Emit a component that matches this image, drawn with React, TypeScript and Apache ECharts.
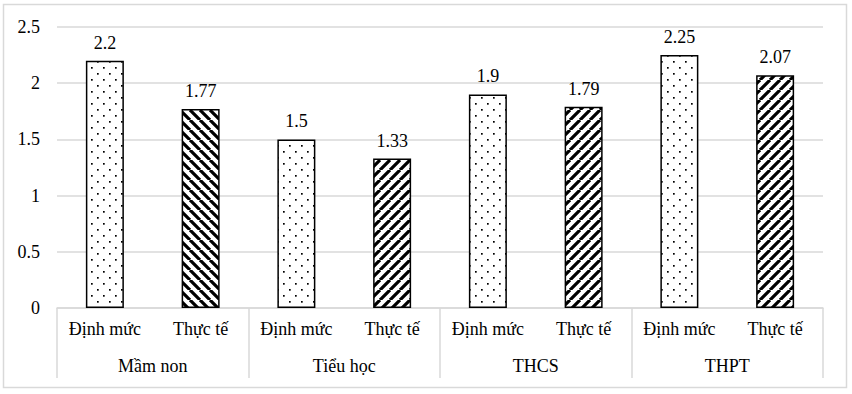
import React, { useEffect, useRef } from "react";
import * as echarts from "echarts";

const innerLabels = ["Định mức", "Thực tế", "Định mức", "Thực tế", "Định mức", "Thực tế", "Định mức", "Thực tế"];
const groupLabels = ["Mầm non", "Tiểu học", "THCS", "THPT"];
const values = [2.2, 1.77, 1.5, 1.33, 1.9, 1.79, 2.25, 2.07];
// pattern kind per bar: dots, backslash hatch, slash hatch
const patternKinds = ["dots", "back", "dots", "slash", "dots", "slash", "dots", "slash"];
const yTicks = { min: 0, max: 2.5, interval: 0.5 };

const FONT = "'Liberation Serif', 'Times New Roman', serif";

function makeDots(): HTMLCanvasElement {
  const c = document.createElement("canvas");
  c.width = 12;
  c.height = 12;
  const ctx = c.getContext("2d")!;
  ctx.fillStyle = "#fff";
  ctx.fillRect(0, 0, 12, 12);
  ctx.fillStyle = "#000";
  ctx.fillRect(1, 1, 1.7, 1.7);
  ctx.fillRect(7, 7, 1.7, 1.7);
  return c;
}

function makeHatch(forward: boolean): HTMLCanvasElement {
  const s = 10;
  const c = document.createElement("canvas");
  c.width = s;
  c.height = s;
  const ctx = c.getContext("2d")!;
  ctx.fillStyle = "#fff";
  ctx.fillRect(0, 0, s, s);
  ctx.strokeStyle = "#000";
  ctx.lineWidth = 3.2;
  ctx.beginPath();
  for (const o of [-s, 0, s]) {
    if (forward) {
      ctx.moveTo(o, s);
      ctx.lineTo(o + s, 0);
    } else {
      ctx.moveTo(o, 0);
      ctx.lineTo(o + s, s);
    }
  }
  ctx.stroke();
  return c;
}

export default function App() {
  const ref = useRef<HTMLDivElement>(null);
  useEffect(() => {
    if (!ref.current) return;
    const chart = echarts.init(ref.current, null, { renderer: "svg" });
    const pats: Record<string, HTMLCanvasElement> = {
      dots: makeDots(),
      back: makeHatch(false),
      slash: makeHatch(true),
    };
    const data = values.map((v, i) => ({
      value: v,
      itemStyle: {
        color: { image: pats[patternKinds[i]], repeat: "repeat" } as any,
      },
    }));
    chart.setOption({
      animation: false,
      backgroundColor: "#fff",
      textStyle: { fontFamily: FONT },
      graphic: [
        {
          type: "rect",
          shape: { x: 3.5, y: 4.5, width: 843, height: 383 },
          style: { fill: "none", stroke: "#d9d9d9", lineWidth: 1.5 },
          silent: true,
        },
      ],
      grid: { left: 57, right: 29, top: 27, bottom: 86, containLabel: false },
      xAxis: [
        {
          type: "category",
          data: innerLabels,
          position: "bottom",
          axisLine: { show: false },
          axisTick: { show: false },
          axisLabel: { margin: 12, fontFamily: FONT, fontSize: 18, color: "#000" },
        },
        {
          type: "category",
          data: groupLabels,
          position: "bottom",
          axisLine: { show: true, lineStyle: { color: "#d9d9d9", width: 1.5 } },
          axisTick: { show: true, length: 70, lineStyle: { color: "#d9d9d9", width: 1.5 } },
          axisLabel: { margin: 49, fontFamily: FONT, fontSize: 18, color: "#000" },
        },
      ],
      yAxis: {
        type: "value",
        min: yTicks.min,
        max: yTicks.max,
        interval: yTicks.interval,
        axisLine: { show: false },
        axisTick: { show: false },
        splitLine: { lineStyle: { color: "#d9d9d9", width: 1.5 } },
        axisLabel: { margin: 17, fontFamily: FONT, fontSize: 18, color: "#000" },
      },
      series: [
        {
          type: "bar",
          xAxisIndex: 0,
          data,
          barWidth: 38,
          itemStyle: { borderColor: "#000", borderWidth: 1.5 },
          label: {
            show: true,
            position: "top",
            distance: 9,
            fontFamily: FONT,
            fontSize: 18,
            color: "#000",
          },
        },
      ],
    });
    return () => chart.dispose();
  }, []);
  return (
    <div
      ref={ref}
      style={{ position: "fixed", left: 0, top: 0, width: 852, height: 394 }}
    />
  );
}
